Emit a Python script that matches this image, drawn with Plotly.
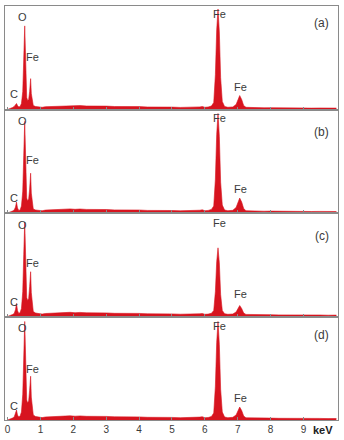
import plotly.graph_objects as go
from plotly.subplots import make_subplots

# Energy grid (keV)
energy = [0.00, 0.05, 0.10, 0.15, 0.20, 0.24, 0.27, 0.30, 0.34, 0.38, 0.42, 0.46, 0.49, 0.51, 0.52, 0.53, 0.55, 0.58, 0.61, 0.64, 0.67, 0.70, 0.72, 0.75, 0.78, 0.85,
          0.95, 1.05, 1.15, 1.3, 1.45, 1.6, 1.75, 1.9, 2.05, 2.2, 2.4, 2.6, 2.8, 3.0, 3.25, 3.5, 3.75, 4.0, 4.25, 4.5, 4.75, 5.0, 5.25, 5.5,
          5.7, 5.85, 5.92, 6.0, 6.1, 6.2, 6.27, 6.32, 6.36, 6.40, 6.44, 6.48, 6.53, 6.60,
          6.70, 6.85, 6.95, 7.00, 7.06, 7.12, 7.18, 7.25,
          7.4, 7.6, 7.8, 8.0, 8.25, 8.5, 8.75, 9.0, 9.25, 9.5, 9.75, 10.0]

counts_a = [0, 0.5, 1, 2, 3, 4.5, 6, 4, 2.5, 3, 6, 18, 50, 78, 84, 72, 35, 12, 9, 10, 18, 31, 16, 7, 4, 3,
            2.5, 2.2, 2.8, 3.0, 3.5, 3.3, 3.8, 4.0, 3.6, 3.9, 3.5, 3.7, 3.2, 3.4, 3.0, 3.1, 2.7, 2.9, 2.5, 2.6, 2.3, 2.4, 2.1, 2.2,
            2.0, 2.6, 3.0, 2.2, 2.5, 3.5, 7, 35, 80, 101, 78, 32, 8, 3,
            2.2, 2.6, 5, 10, 14, 10, 4, 2.2,
            1.9, 2.0, 1.7, 1.8, 1.6, 1.7, 1.5, 1.6, 1.4, 1.5, 1.3, 1.4]

counts_b = [0, 0.5, 1, 2, 3, 6, 11, 5, 2.5, 3, 7, 22, 58, 86, 92, 79, 38, 15, 12, 14, 24, 40, 20, 8, 4, 3,
            2.6, 2.3, 2.9, 3.2, 3.6, 3.4, 3.9, 4.1, 3.7, 4.0, 3.6, 3.8, 3.3, 3.5, 3.1, 3.2, 2.8, 3.0, 2.6, 2.7, 2.4, 2.5, 2.2, 2.3,
            2.0, 2.8, 3.2, 2.3, 2.6, 3.6, 7, 34, 79, 100, 77, 31, 8, 3,
            2.3, 2.7, 5.5, 11, 15, 11, 4.5, 2.3,
            2.0, 2.1, 1.8, 1.9, 1.7, 1.8, 1.6, 1.7, 1.5, 1.6, 1.4, 1.5]

counts_c = [0, 0.5, 1, 2, 3, 7, 13, 6, 3, 4, 8, 25, 62, 89, 95, 83, 42, 19, 16, 18, 30, 45, 24, 10, 5, 3.5,
            2.7, 2.4, 3.0, 3.3, 3.7, 3.5, 4.0, 4.2, 3.8, 4.1, 3.7, 3.9, 3.4, 3.6, 3.2, 3.3, 2.9, 3.1, 2.7, 2.8, 2.5, 2.6, 2.3, 2.4,
            2.0, 2.7, 3.0, 2.2, 2.4, 3.2, 6, 25, 55, 69, 54, 22, 6, 2.8,
            2.2, 2.5, 4.5, 8, 11, 8, 3.5, 2.1,
            1.9, 2.0, 1.7, 1.8, 1.6, 1.7, 1.5, 1.6, 1.4, 1.5, 1.3, 1.4]

counts_d = [0, 0.5, 1, 2, 3, 6, 10, 5, 3, 4, 8, 26, 64, 93, 99, 86, 44, 20, 17, 19, 30, 44, 23, 10, 5, 3.5,
            2.7, 2.4, 3.0, 3.3, 3.7, 3.5, 4.0, 4.2, 3.8, 4.1, 3.7, 3.9, 3.4, 3.6, 3.2, 3.3, 2.9, 3.1, 2.7, 2.8, 2.5, 2.6, 2.3, 2.4,
            2.1, 2.9, 3.3, 2.3, 2.5, 3.5, 7, 34, 78, 99, 76, 31, 8, 3,
            2.3, 2.7, 5, 9.5, 13, 9.5, 4, 2.2,
            2.0, 2.1, 1.8, 1.9, 1.7, 1.8, 1.6, 1.7, 1.5, 1.6, 1.4, 1.5]

panel_tags = ["(a)", "(b)", "(c)", "(d)"]
tick_values = [0, 1, 2, 3, 4, 5, 6, 7, 8, 9]
tick_labels = ["0", "1", "2", "3", "4", "5", "6", "7", "8", "9"]

series = [counts_a, counts_b, counts_c, counts_d]
for s in series:
    assert len(s) == len(energy), len(s)

RED = "#d7141f"
GREY = "#8a8a8a"
TXT = "#3a3a3a"
FONT = "Liberation Sans, Arial, sans-serif"

fig = make_subplots(rows=4, cols=1, shared_xaxes=True, vertical_spacing=0)

for i, s in enumerate(series):
    fig.add_trace(go.Scatter(x=energy, y=s, mode="lines", fill="tozeroy",
                             line=dict(color=RED, width=0.6), fillcolor=RED,
                             showlegend=False, hoverinfo="skip"), row=i + 1, col=1)

# label positions (px from the panel top) per panel
label_top = [
    dict(O=11, FeL=51, C=88, Ka=8, Kb=81, tag=17),
    dict(O=12, FeL=51, C=89, Ka=9, Kb=80, tag=23),
    dict(O=12, FeL=50, C=89, Ka=10, Kb=81, tag=23),
    dict(O=12, FeL=53, C=90, Ka=10, Kb=82, tag=19),
]
PH = 104
for i in range(4):
    xr = "x" if i == 0 else f"x{i+1}"
    yr = "y" if i == 0 else f"y{i+1}"
    lt = label_top[i]
    items = [("O", 0.44, lt["O"], 11), ("Fe", 0.76, lt["FeL"], 11), ("C", 0.20, lt["C"], 11),
             ("Fe", 6.43, lt["Ka"], 11), ("Fe", 7.07, lt["Kb"], 11), (panel_tags[i], 9.56, lt["tag"], 12)]
    for txt, xv, ypx, fs in items:
        fig.add_annotation(x=xv, y=PH - ypx, xref=xr, yref=yr, text=txt, showarrow=False,
                           xanchor="center", yanchor="middle",
                           font=dict(family=FONT, size=fs, color=TXT))

for i in range(1, 5):
    fig.update_xaxes(range=[-0.08, 10.05], showline=True, linecolor=GREY, linewidth=1,
                     mirror=True, ticks="inside", ticklen=3, tickcolor=GREY,
                     tickvals=tick_values, ticktext=tick_labels,
                     showticklabels=(i == 4), showgrid=False, zeroline=False,
                     tickfont=dict(family=FONT, size=10, color=TXT), row=i, col=1)
    fig.update_yaxes(range=[0, PH], showline=True, linecolor=GREY, linewidth=1, mirror=True,
                     ticks="", showticklabels=False, showgrid=False, zeroline=False,
                     row=i, col=1)

fig.add_annotation(x=1.0, y=-0.005, xref="paper", yref="paper", text="<b>keV</b>",
                   showarrow=False, xanchor="right", yanchor="top", xshift=-3,
                   font=dict(family=FONT, size=11, color="#222"))

fig.update_layout(width=344, height=440, margin=dict(l=5, r=6, t=5, b=19),
                  paper_bgcolor="white", plot_bgcolor="white")

fig.write_html("out.html")
